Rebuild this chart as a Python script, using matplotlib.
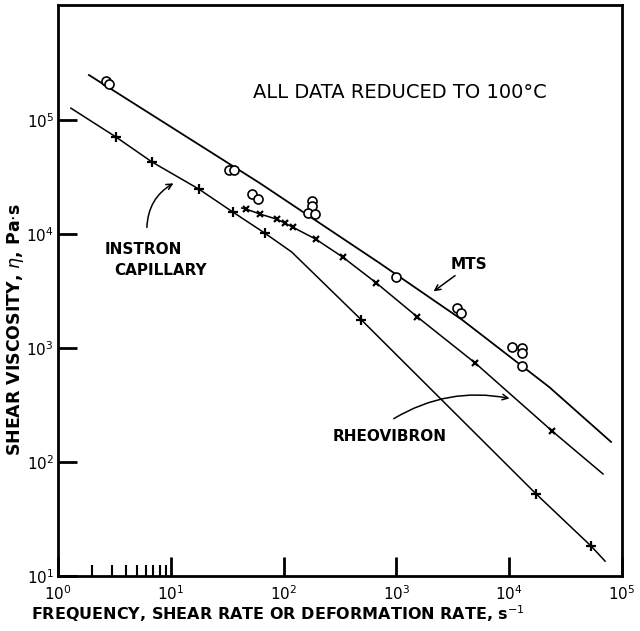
import matplotlib
matplotlib.use('Agg')
import matplotlib.pyplot as plt
from matplotlib.ticker import LogLocator, FixedLocator, NullFormatter

# MTS: fitted curve and measured points (open circles)
mts_line_x = [1.88, 61.3, 707, 3838, 22600, 80000]
mts_line_y = [2.48e5, 2.80e4, 5570, 1762, 455, 150]
mts_pts_x = [2.66, 2.83, 32.6, 36.1, 52.1, 58.9, 177, 177, 163, 188,
             1000, 3467, 3760, 10640, 13030, 13030, 13030]
mts_pts_y = [2.20e5, 2.07e5, 3.64e4, 3.64e4, 2.24e4, 2.03e4, 1.95e4, 1.76e4, 1.53e4, 1.50e4,
             4200, 2244, 2028, 1020, 1000, 904, 695]

# Instron capillary curve
instron_line_x = [1.30, 3.26, 6.79, 17.7, 35.4, 67.9, 118, 490, 17340, 53200, 70800]
instron_line_y = [1.27e5, 7.10e4, 4.29e4, 2.48e4, 1.56e4, 1.02e4, 6950, 1762, 52.4, 18.3, 13.5]
instron_pts_x = [3.26, 6.79, 17.7, 35.4, 67.9, 490, 17340, 53200]
instron_pts_y = [7.10e4, 4.29e4, 2.48e4, 1.56e4, 1.02e4, 1762, 52.4, 18.3]

# Rheovibron curve
rheo_line_x = [42.5, 46.1, 61.3, 86.7, 102, 120, 192, 333, 665, 1535, 5000, 24000, 67900]
rheo_line_y = [1.69e4, 1.66e4, 1.50e4, 1.35e4, 1.25e4, 1.15e4, 9030, 6290, 3715, 1870, 738, 187, 78.5]
rheo_pts_x = rheo_line_x[1:-1]
rheo_pts_y = rheo_line_y[1:-1]

plt.rcParams['font.family'] = 'DejaVu Sans'

fig = plt.figure(figsize=(6.4, 6.31), dpi=100)
ax = fig.add_axes([58 / 640, 55 / 631, 564 / 640, 571 / 631])

ax.plot(mts_line_x, mts_line_y, color='black', lw=1.3)
ax.plot(mts_pts_x, mts_pts_y, linestyle='none', marker='o', ms=6.5,
        mfc='white', mec='black', mew=1.2)
ax.plot(instron_line_x, instron_line_y, color='black', lw=1.1)
ax.plot(instron_pts_x, instron_pts_y, linestyle='none', marker='+', ms=7,
        color='black', mew=1.6)
ax.plot(rheo_line_x, rheo_line_y, color='black', lw=1.1)
ax.plot(rheo_pts_x, rheo_pts_y, linestyle='none', marker='x', ms=5,
        color='black', mew=1.6)

ax.set_xscale('log')
ax.set_yscale('log')
ax.set_xlim(1, 1e5)
ax.set_ylim(10, 1.02e6)

for s in ax.spines.values():
    s.set_linewidth(2)

ax.xaxis.set_major_locator(LogLocator(base=10, numticks=10))
ax.yaxis.set_major_locator(FixedLocator([1e1, 1e2, 1e3, 1e4, 1e5]))
ax.xaxis.set_minor_locator(FixedLocator([2, 3, 4, 5, 6, 7, 8, 9]))
ax.yaxis.set_minor_locator(FixedLocator([]))
ax.xaxis.set_minor_formatter(NullFormatter())
ax.tick_params(axis='both', which='major', direction='in', length=14, width=2,
               labelsize=11, top=False, right=False)
ax.tick_params(axis='x', which='minor', direction='in', length=8, width=1.5)
ax.tick_params(axis='x', pad=6)
ax.tick_params(axis='y', pad=3)

ax.text(0.606, 0.846, 'ALL DATA REDUCED TO 100\u00b0C', transform=ax.transAxes,
        ha='center', va='center', fontsize=14)

ax.text(4430, 5350, 'MTS', ha='center', va='center', fontsize=11, fontweight='bold')
ax.annotate('', xy=(2040, 3035), xytext=(3467, 4460),
            arrowprops=dict(arrowstyle='->', color='black', lw=1.1))

ax.text(5.65, 7240, 'INSTRON', ha='center', va='center', fontsize=11, fontweight='bold')
ax.text(8.16, 4830, 'CAPILLARY', ha='center', va='center', fontsize=11, fontweight='bold')
ax.annotate('', xy=(11.1, 2.86e4), xytext=(6.13, 1.08e4),
            arrowprops=dict(arrowstyle='->', color='black', lw=1.1,
                            connectionstyle='arc3,rad=-0.3'))

ax.text(867, 166, 'RHEOVIBRON', ha='center', va='center', fontsize=11, fontweight='bold')
ax.annotate('', xy=(10640, 357), xytext=(903, 233),
            arrowprops=dict(arrowstyle='->', color='black', lw=1.1,
                            connectionstyle='arc3,rad=-0.2'))

fig.text(278 / 640, 1 - 614 / 631, 'FREQUENCY, SHEAR RATE OR DEFORMATION RATE, s$^{-1}$',
         ha='center', va='center', fontsize=11.5, fontweight='bold')
fig.text(16 / 640, 1 - 330 / 631, 'SHEAR VISCOSITY, $\\eta$, Pa$\\cdot$s', rotation=90,
         ha='center', va='center', fontsize=12.5, fontweight='bold')

fig.savefig('out.png', dpi=100)
